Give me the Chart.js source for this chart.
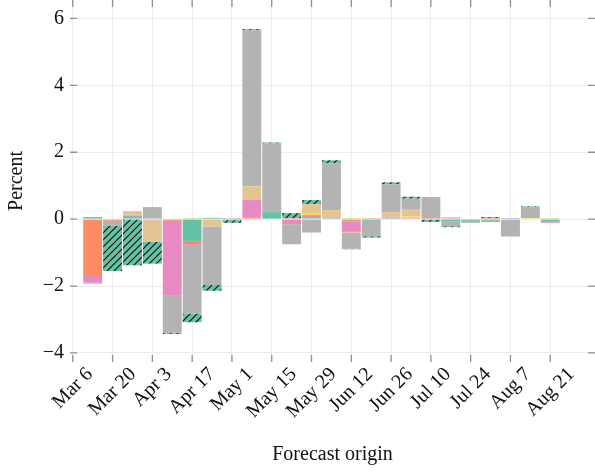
<!DOCTYPE html>
<html>
<head>
<meta charset="utf-8">
<script src="https://cdn.jsdelivr.net/npm/chart.js@4.4.0/dist/chart.umd.min.js"></script>
<style>
html, body { margin: 0; padding: 0; background: #fff; overflow: hidden; }
</style>
</head>
<body>
<canvas id="chart" width="595" height="473"></canvas>
<script>
// forecast origins (one bar per week)
var origins = ['2020-03-13','2020-03-20','2020-03-27','2020-04-03','2020-04-10','2020-04-17',
	'2020-04-24','2020-05-01','2020-05-08','2020-05-15','2020-05-22','2020-05-29',
	'2020-06-05','2020-06-12','2020-06-19','2020-06-26','2020-07-03','2020-07-10',
	'2020-07-17','2020-07-24','2020-07-31','2020-08-07','2020-08-14','2020-08-21'];
var firstTick = '2020-03-06';

// tick labels (every two weeks from Mar 6)
var tickLabels = ['Mar 6','Mar 20','Apr 3','Apr 17','May 1','May 15','May 29',
	'Jun 12','Jun 26','Jul 10','Jul 24','Aug 7','Aug 21'];
var yTicks = [-4, -2, 0, 2, 4, 6];

// contributions, percent
var teal   = [0.06, 0, 0.06, 0, 0, -0.65, 0.04, 0, 0, 0.21, 0, 0.03, 0, -0.03, -0.05, 0, 0, 0, -0.06, -0.05, -0.05, 0, 0, -0.08];
var orange = [-1.7, -0.05, 0, 0, -0.05, -0.1, 0, -0.03, 0.04, 0.03, 0.03, 0, 0, -0.05, 0.03, 0, 0, 0.03, 0.02, 0, 0.03, 0, 0, 0];
var purple = [0, 0, 0.03, 0.03, 0, 0, 0, 0.03, 0, 0, 0, 0, 0.03, 0, 0, 0.03, 0, 0, 0, 0, 0, 0.03, 0, 0];
var pink   = [-0.2, 0, 0, 0.03, -2.22, -0.05, 0, 0, 0.53, 0, -0.15, 0.09, 0, -0.3, 0, 0, 0.03, -0.02, 0.03, 0, 0, 0, 0, -0.03];
var lgreen = [0, 0, 0, 0, 0, 0.03, 0, 0, 0, 0, 0, 0, 0, 0.03, 0, 0, 0, 0, 0, 0, 0, 0, 0, 0.03];
var yellow = [0, 0, 0, 0, 0, 0, 0, 0, 0, 0, 0, 0.06, 0, 0, 0, 0, 0.05, 0, 0, 0, 0, 0, 0.03, 0];
var tan    = [0, 0, 0.15, -0.68, 0, 0, -0.22, 0, 0.41, 0, 0, 0.27, 0.24, -0.03, 0, 0.18, 0.2, 0, 0, 0, 0, -0.02, 0, 0];
var gray   = [-0.03, -0.15, 0, 0.3, -1.12, -2.02, -1.75, 0, 4.66, 2.02, -0.6, -0.4, 1.4, -0.47, -0.46, 0.83, 0.33, 0.63, -0.15, -0.06, -0.04, -0.5, 0.33, 0];
var hatched = [0, -1.35, -1.38, -0.65, -0.04, -0.26, -0.17, -0.08, 0.04, 0.03, 0.15, 0.12, 0.09, -0.02, -0.04, 0.06, 0.06, -0.06, -0.03, 0, 0.03, 0, 0.02, 0];

var DAY = 86400000;
function weeksFrom(d){ return (Date.parse(d) - Date.parse(firstTick)) / (7 * DAY); }
var barWeeks = origins.map(weeksFrom);
var tickWeeks = tickLabels.map(function(t, i){ return 2 * i; });

// hatch fill for the ninth series
function hatchPattern(){
	var c = document.createElement('canvas');
	c.width = 7; c.height = 7;
	var g = c.getContext('2d');
	g.fillStyle = '#66c2a5';
	g.fillRect(0, 0, 7, 7);
	g.strokeStyle = '#111';
	g.lineWidth = 1.2;
	g.beginPath();
	g.moveTo(0, 7); g.lineTo(7, 0);
	g.moveTo(-1, 1); g.lineTo(1, -1);
	g.moveTo(6, 8); g.lineTo(8, 6);
	g.stroke();
	return g.createPattern(c, 'repeat');
}

var series = [
	[teal, '#66c2a5'], [orange, '#fc8d62'], [purple, '#8da0cb'], [pink, '#e78ac3'],
	[lgreen, '#a6d854'], [yellow, '#ffd92f'], [tan, '#e5c494'], [gray, '#b3b3b3'],
	[hatched, hatchPattern()]
];

var FONT = '"Liberation Serif", "Times New Roman", serif';

var decor = {
	id: 'decor',
	afterDatasetsDraw: function(chart){
		var ctx = chart.ctx, a = chart.chartArea, x = chart.scales.x, y = chart.scales.y;
		ctx.save();
		ctx.strokeStyle = '#8f8f8f';
		ctx.lineWidth = 1.3;
		ctx.beginPath();
		tickWeeks.forEach(function(w){
			var px = x.getPixelForValue(w);
			ctx.moveTo(px, a.top); ctx.lineTo(px, a.top + 7);
			ctx.moveTo(px, a.bottom); ctx.lineTo(px, a.bottom - 7);
		});
		yTicks.forEach(function(v){
			var py = y.getPixelForValue(v);
			ctx.moveTo(a.left, py); ctx.lineTo(a.left + 7, py);
			ctx.moveTo(a.right, py); ctx.lineTo(a.right - 7, py);
		});
		ctx.stroke();

		// rotated labels, box centred under the tick
		ctx.font = '20px ' + FONT;
		ctx.fillStyle = '#111';
		ctx.textAlign = 'center';
		ctx.textBaseline = 'middle';
		tickLabels.forEach(function(t, i){
			var px = x.getPixelForValue(tickWeeks[i]);
			var w = ctx.measureText(t).width;
			var half = (w + 15) * Math.SQRT1_2 / 2;
			ctx.save();
			ctx.translate(px, a.bottom + 4 + half);
			ctx.rotate(-Math.PI / 4);
			ctx.fillText(t, 0, 0);
			ctx.restore();
		});
		ctx.restore();
	}
};

function noPad(s){
	s.paddingTop = 0; s.paddingBottom = 0; s.paddingLeft = 0; s.paddingRight = 0;
}

var ctx = document.getElementById('chart').getContext('2d');
var chart = new Chart(ctx, {
	type: 'bar',
	data: {
		labels: barWeeks,
		datasets: series.map(function(s, i){
			return {
				label: 'S' + (i + 1),
				data: s[0],
				backgroundColor: s[1],
				borderWidth: 0,
				categoryPercentage: 1,
				barPercentage: 0.95
			};
		})
	},
	options: {
		responsive: false,
		devicePixelRatio: 1,
		animation: false,
		layout: { padding: 0 },
		plugins: { legend: { display: false }, tooltip: { enabled: false } },
		scales: {
			x: {
				type: 'linear',
				stacked: true,
				offset: false,
				min: -0.14,
				max: 26.25,
				afterBuildTicks: function(s){ s.ticks = tickWeeks.map(function(v){ return { value: v }; }); },
				afterFit: function(s){ s.height = 111; noPad(s); },
				ticks: { display: false },
				grid: { color: '#ececec', lineWidth: 1, drawTicks: false, offset: false },
				border: { display: false },
				title: {
					display: true,
					text: 'Forecast origin',
					color: '#111',
					font: { family: FONT, size: 20 },
					padding: { top: 0, bottom: 6 }
				}
			},
			y: {
				stacked: true,
				min: -4.27,
				max: 6.55,
				afterBuildTicks: function(s){ s.ticks = yTicks.map(function(v){ return { value: v }; }); },
				afterFit: function(s){ s.width = 70; noPad(s); },
				ticks: {
					color: '#111',
					padding: 6,
					font: { family: FONT, size: 20 },
					callback: function(v){ return v < 0 ? '\u2212' + Math.abs(v) : String(v); }
				},
				grid: { color: '#ececec', lineWidth: 1, drawTicks: false },
				border: { display: false },
				title: {
					display: true,
					text: 'Percent',
					color: '#111',
					font: { family: FONT, size: 20 },
					padding: { top: 5, bottom: 0 }
				}
			}
		}
	},
	plugins: [decor]
});
</script>
</body>
</html>
